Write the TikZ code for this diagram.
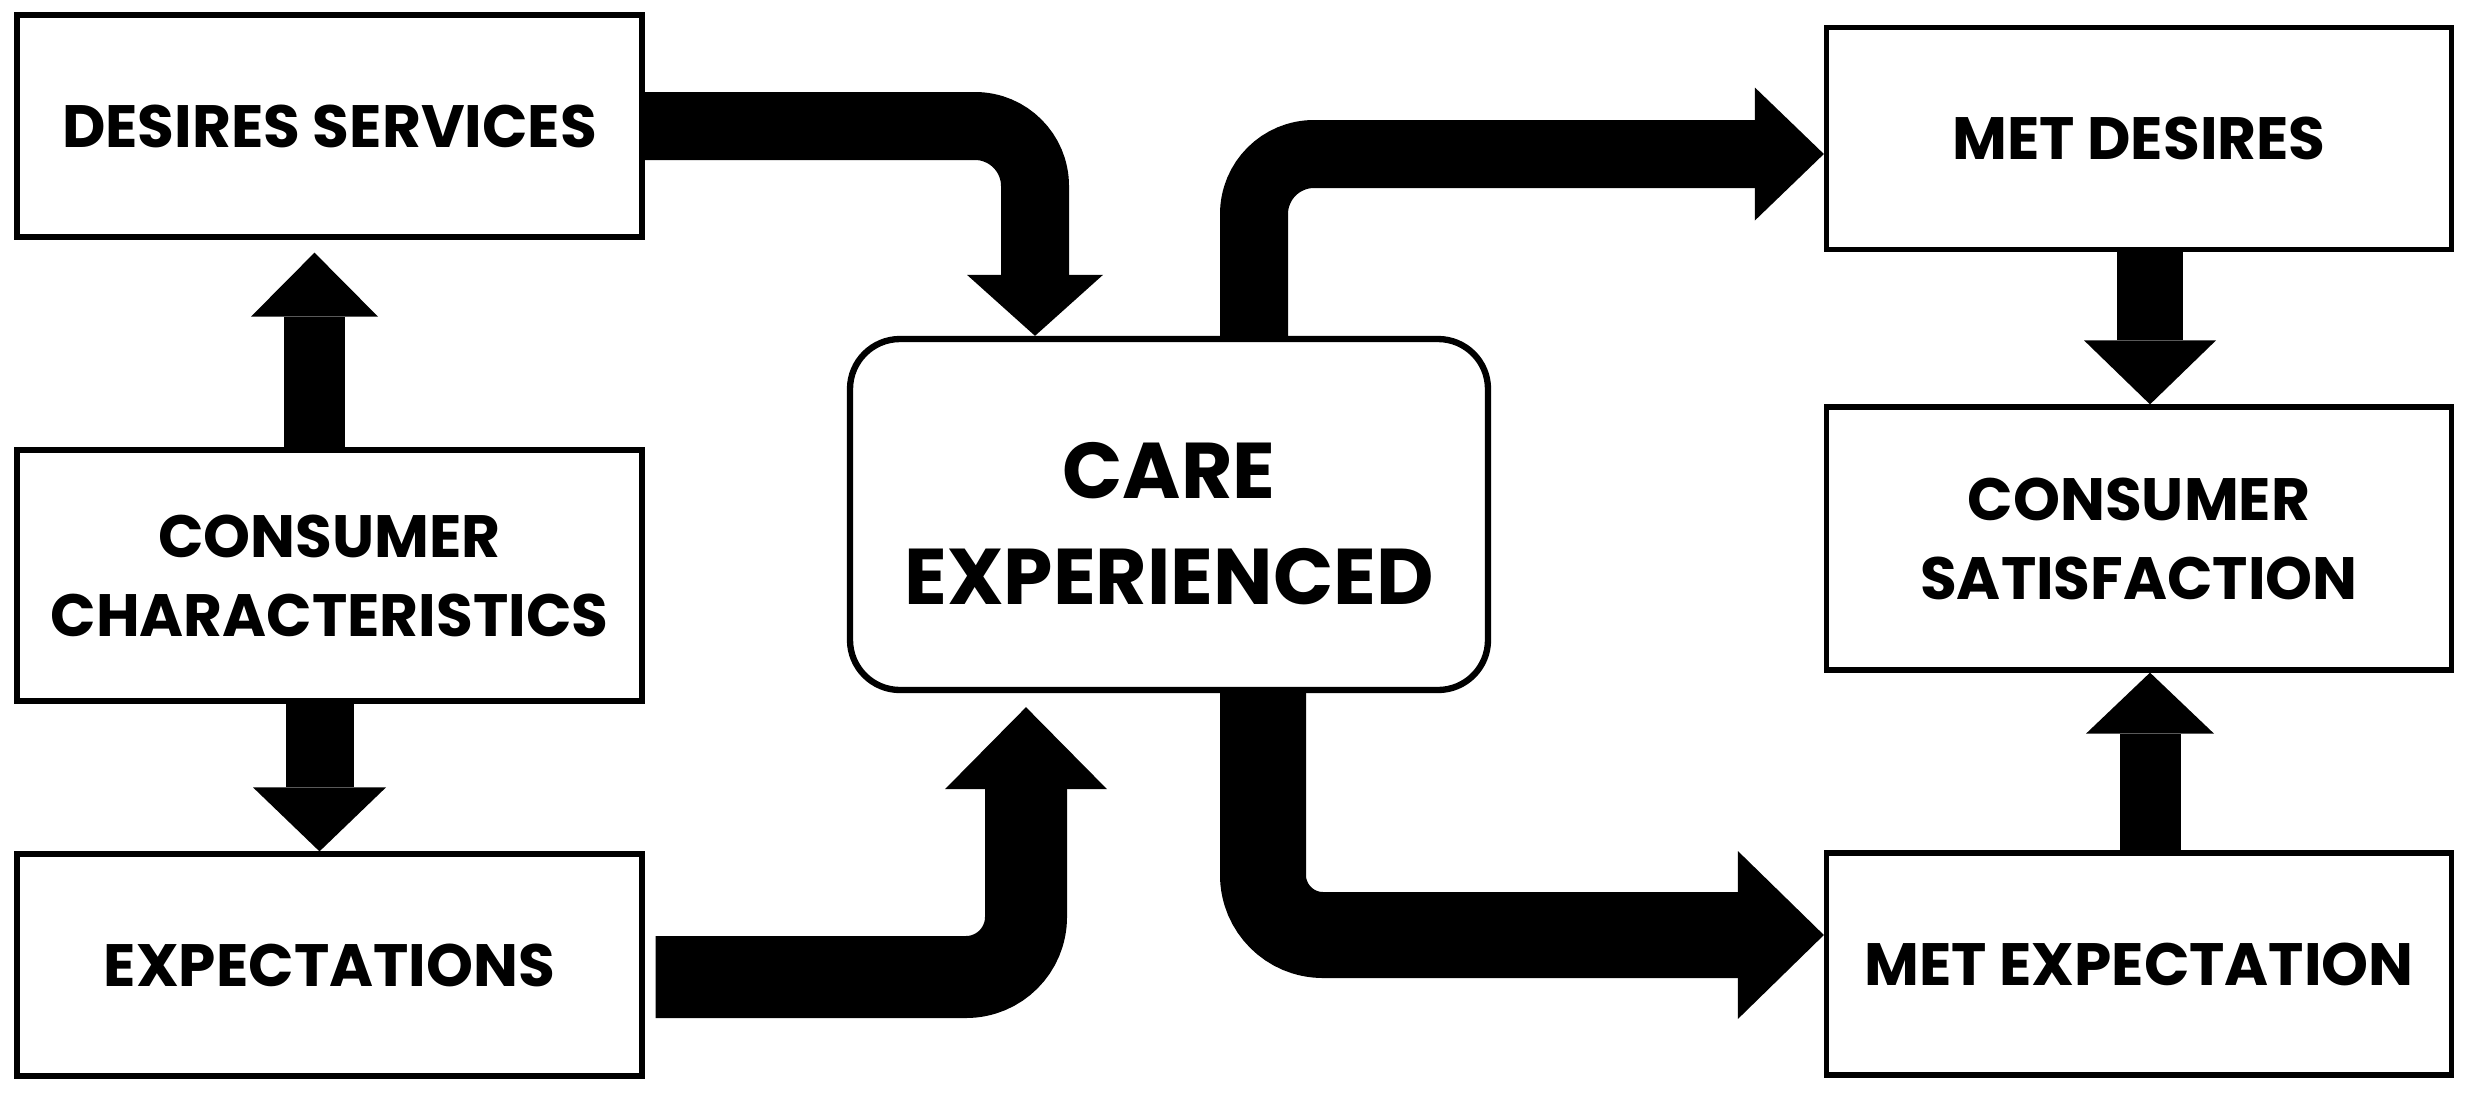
\documentclass[tikz,border=0pt]{standalone}
\usepackage{fontspec}
\setmainfont{Poppins}
\usetikzlibrary{positioning,arrows.meta}

\begin{document}
\begin{tikzpicture}[x=0.1mm, y=0.1mm,
  every node/.style={font=\bfseries\fontsize{17}{22.5}\selectfont, align=center},
  block/.style={draw, line width=1.5pt, minimum width=6.25cm, minimum height=2.22cm, inner sep=0pt},
  careblock/.style={draw, line width=1.8pt, rounded corners=0.5cm, minimum width=6.38cm,
    minimum height=3.51cm, font=\bfseries\fontsize{22.5}{30}\selectfont},
  flow/.style args={#1/#2/#3}{line width=#1, rounded corners=0.6cm,
    -{Triangle[length=#2, width=#3, line width=0pt]}}]

  \useasboundingbox (0,0) rectangle (2474,-1101);

  % Boxes
  \node[block] (desires) at (329.5,-126) {DESIRES SERVICES};
  \node[block, minimum height=2.51cm] (consumer) at (329.5,-575.5) {CONSUMER\\CHARACTERISTICS};
  \node[block] (expect) at (329.5,-965) {EXPECTATIONS};
  \node[careblock] (care) at (1169,-514.5) {\rule{0pt}{0.74cm}CARE\\EXPERIENCED};
  \node[block] (metdes) at (2139,-138.5) {MET DESIRES};
  \node[block, minimum height=2.63cm] (sat) at (2139,-538.5) {CONSUMER\\SATISFACTION};
  \node[block] (metexp) at (2139,-964) {MET EXPECTATION};

  % Left column
  \draw[flow=0.61cm/0.64cm/1.27cm, shorten >=0.13cm]
    ([xshift=-0.15cm]consumer.north) -- ([xshift=-0.15cm]desires.south);
  \draw[flow=0.68cm/0.64cm/1.33cm]
    ([xshift=-0.1cm]consumer.south) -- ([xshift=-0.1cm]expect.north);

  % Into care
  \draw[flow=0.68cm/0.61cm/1.36cm]
    (desires.east) -| ([xshift=-1.34cm]care.north);
  \draw[flow=0.82cm/0.82cm/1.62cm, shorten <=0.11cm, shorten >=0.14cm]
    ([yshift=-0.12cm]expect.east) -| ([xshift=-1.43cm]care.south);

  % Out of care
  \draw[flow=0.68cm/0.69cm/1.33cm]
    ([xshift=0.85cm]care.north) |- ([yshift=-0.155cm]metdes.west);
  \draw[flow=0.86cm/0.86cm/1.68cm]
    ([xshift=0.94cm]care.south) |- ([yshift=0.29cm]metexp.west);

  % Right column
  \draw[flow=0.66cm/0.64cm/1.32cm]
    ([xshift=0.11cm]metdes.south) -- ([xshift=0.11cm]sat.north);
  \draw[flow=0.61cm/0.61cm/1.28cm]
    ([xshift=0.11cm]metexp.north) -- ([xshift=0.11cm]sat.south);

\end{tikzpicture}
\end{document}
